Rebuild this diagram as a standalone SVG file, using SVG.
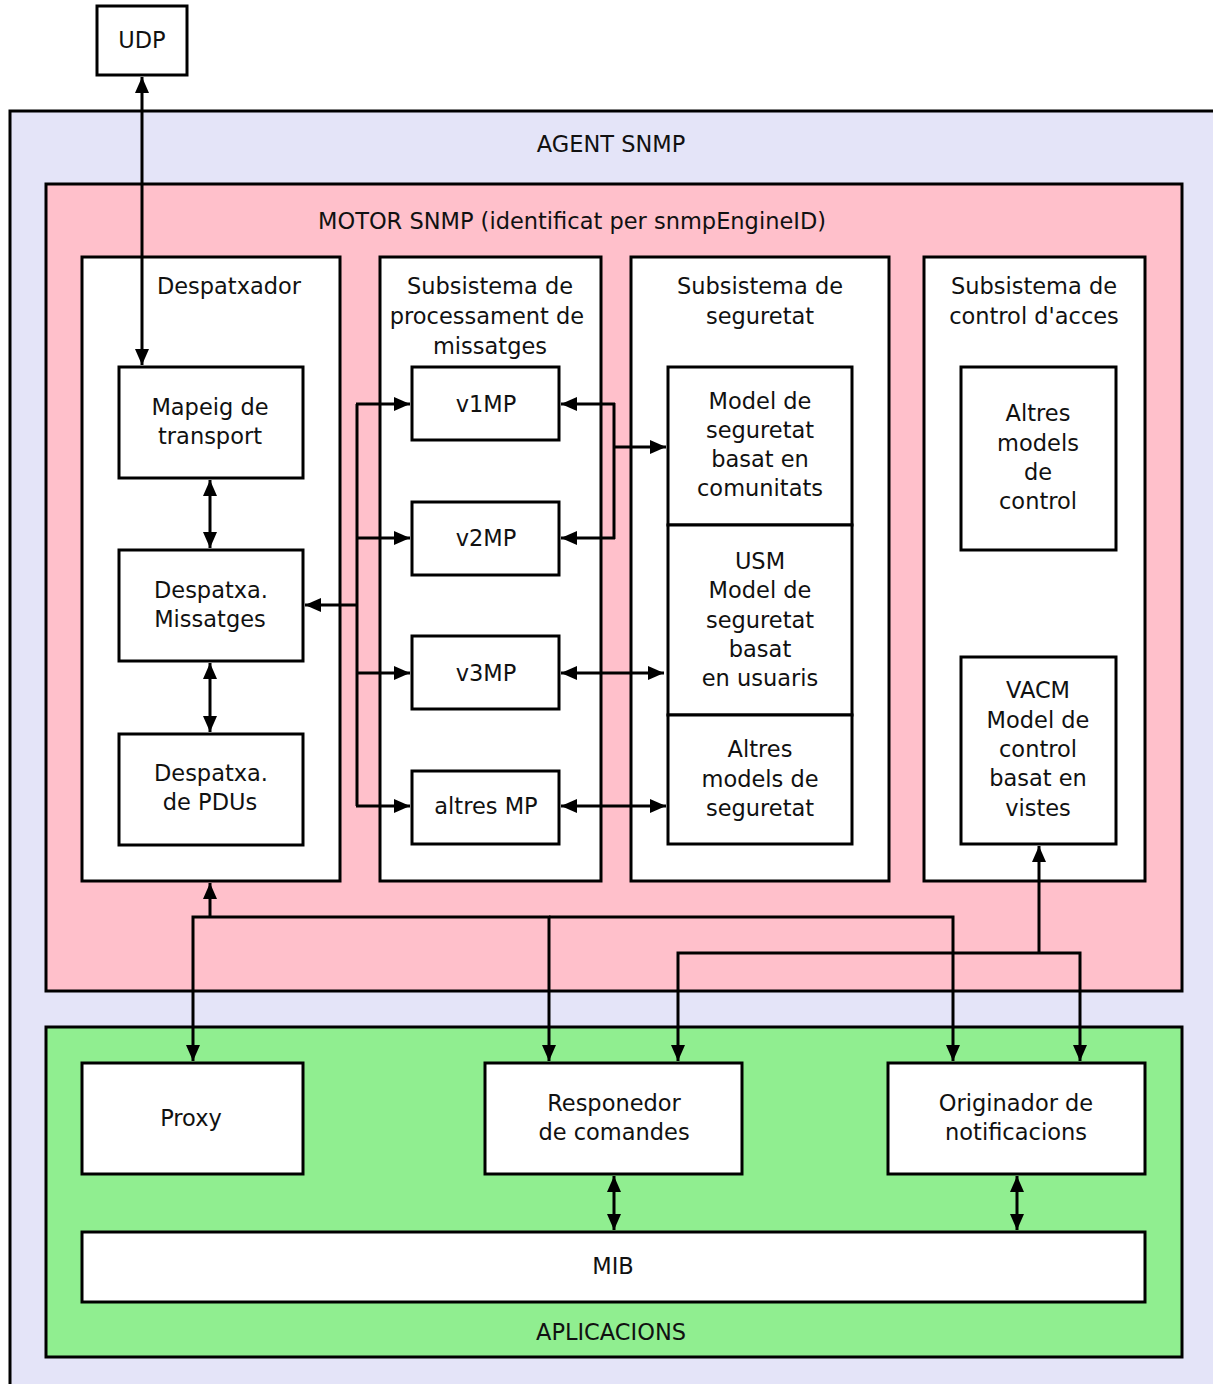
<svg xmlns="http://www.w3.org/2000/svg" width="1213" height="1384" viewBox="0 0 1213 1384">
  <defs>
    <marker id="ah" viewBox="0 0 16 14" refX="16" refY="7" markerWidth="16" markerHeight="14" markerUnits="userSpaceOnUse" orient="auto-start-reverse">
      <path d="M0,0 L16,7 L0,14 z" fill="#000"/>
    </marker>
    <style>
      .box { fill: #fff; stroke: #000; stroke-width: 3; }
      .agent { fill: #e4e4f8; stroke: #000; stroke-width: 3; }
      .motor { fill: #ffc0cb; stroke: #000; stroke-width: 3; }
      .apps { fill: #90ee90; stroke: #000; stroke-width: 3; }
      text { font-family: "DejaVu Sans", "Liberation Sans", sans-serif; font-size: 22.5px; fill: #111; text-anchor: middle; }
      .c { fill: none; stroke: #000; stroke-width: 3; }
      .a1 { marker-end: url(#ah); }
      .a2 { marker-start: url(#ah); marker-end: url(#ah); }
    </style>
  </defs>
  <rect width="1213" height="1384" fill="#fff"/>

  <!-- containers -->
  <g id="agent">
    <rect class="agent" x="10" y="111" width="1210" height="1290"/>
    <text x="611" y="152">AGENT SNMP</text>
  </g>
  <g id="motor">
    <rect class="motor" x="46" y="184" width="1136" height="807"/>
    <text x="572" y="229">MOTOR SNMP (identificat per snmpEngineID)</text>
  </g>
  <g id="aplicacions">
    <rect class="apps" x="46" y="1027" width="1136" height="330"/>
    <text x="611" y="1340">APLICACIONS</text>
  </g>

  <!-- subsystems -->
  <g id="despatxador">
    <rect class="box" x="82" y="257" width="258" height="624"/>
    <text x="229" y="294">Despatxador</text>
  </g>
  <g id="processament">
    <rect class="box" x="380" y="257" width="221" height="624"/>
    <text x="490" y="294">Subsistema de</text>
    <text x="487" y="324">processament de</text>
    <text x="490" y="354">missatges</text>
  </g>
  <g id="seguretat">
    <rect class="box" x="631" y="257" width="258" height="624"/>
    <text x="760" y="294">Subsistema de</text>
    <text x="760" y="324">seguretat</text>
  </g>
  <g id="control">
    <rect class="box" x="924" y="257" width="221" height="624"/>
    <text x="1034" y="294">Subsistema de</text>
    <text x="1034" y="324">control d'acces</text>
  </g>

  <!-- nodes -->
  <g id="udp">
    <rect class="box" x="97" y="6" width="90" height="69"/>
    <text x="142" y="48">UDP</text>
  </g>
  <g id="mapeig">
    <rect class="box" x="119" y="367" width="184" height="111"/>
    <text x="210" y="415">Mapeig de</text>
    <text x="210" y="444">transport</text>
  </g>
  <g id="missatges">
    <rect class="box" x="119" y="550" width="184" height="111"/>
    <text x="211" y="598">Despatxa.</text>
    <text x="210" y="627">Missatges</text>
  </g>
  <g id="pdus">
    <rect class="box" x="119" y="734" width="184" height="111"/>
    <text x="211" y="781">Despatxa.</text>
    <text x="210" y="810">de PDUs</text>
  </g>
  <g id="v1mp">
    <rect class="box" x="412" y="367" width="147" height="73"/>
    <text x="486" y="412">v1MP</text>
  </g>
  <g id="v2mp">
    <rect class="box" x="412" y="502" width="147" height="73"/>
    <text x="486" y="546">v2MP</text>
  </g>
  <g id="v3mp">
    <rect class="box" x="412" y="636" width="147" height="73"/>
    <text x="486" y="681">v3MP</text>
  </g>
  <g id="altresmp">
    <rect class="box" x="412" y="771" width="147" height="73"/>
    <text x="486" y="814">altres MP</text>
  </g>
  <g id="comunitats">
    <rect class="box" x="668" y="367" width="184" height="158"/>
    <text x="760" y="409">Model de</text>
    <text x="760" y="438">seguretat</text>
    <text x="760" y="467">basat en</text>
    <text x="760" y="496">comunitats</text>
  </g>
  <g id="usm">
    <rect class="box" x="668" y="525" width="184" height="190"/>
    <text x="760" y="569">USM</text>
    <text x="760" y="598">Model de</text>
    <text x="760" y="628">seguretat</text>
    <text x="760" y="657">basat</text>
    <text x="760" y="686">en usuaris</text>
  </g>
  <g id="altresseg">
    <rect class="box" x="668" y="715" width="184" height="129"/>
    <text x="760" y="757">Altres</text>
    <text x="760" y="787">models de</text>
    <text x="760" y="816">seguretat</text>
  </g>
  <g id="altrescontrol">
    <rect class="box" x="961" y="367" width="155" height="183"/>
    <text x="1038" y="421">Altres</text>
    <text x="1038" y="451">models</text>
    <text x="1038" y="480">de</text>
    <text x="1038" y="509">control</text>
  </g>
  <g id="vacm">
    <rect class="box" x="961" y="657" width="155" height="187"/>
    <text x="1038" y="698">VACM</text>
    <text x="1038" y="728">Model de</text>
    <text x="1038" y="757">control</text>
    <text x="1038" y="786">basat en</text>
    <text x="1038" y="816">vistes</text>
  </g>
  <g id="proxy">
    <rect class="box" x="82" y="1063" width="221" height="111"/>
    <text x="191" y="1126">Proxy</text>
  </g>
  <g id="responedor">
    <rect class="box" x="485" y="1063" width="257" height="111"/>
    <text x="614" y="1111">Responedor</text>
    <text x="614" y="1140">de comandes</text>
  </g>
  <g id="originador">
    <rect class="box" x="888" y="1063" width="257" height="111"/>
    <text x="1016" y="1111">Originador de</text>
    <text x="1016" y="1140">notificacions</text>
  </g>
  <g id="mib">
    <rect class="box" x="82" y="1232" width="1063" height="70"/>
    <text x="613" y="1274">MIB</text>
  </g>

  <!-- connectors -->
  <g id="connectors">
    <line class="c a2" x1="142" y1="77" x2="142" y2="365"/>
    <line class="c a2" x1="210" y1="480" x2="210" y2="548"/>
    <line class="c a2" x1="210" y1="663" x2="210" y2="732"/>

    <!-- dispatcher bus to message processing models -->
    <line class="c a1" x1="357" y1="605" x2="305" y2="605"/>
    <polyline class="c" points="357,404 357,806"/>
    <line class="c a1" x1="356" y1="404" x2="410" y2="404"/>
    <line class="c a1" x1="356" y1="538" x2="410" y2="538"/>
    <line class="c a1" x1="356" y1="673" x2="410" y2="673"/>
    <line class="c a1" x1="356" y1="806" x2="410" y2="806"/>

    <!-- message processing to security models -->
    <line class="c a1" x1="615" y1="404" x2="561" y2="404"/>
    <line class="c a1" x1="615" y1="538" x2="561" y2="538"/>
    <polyline class="c" points="614,403 614,539"/>
    <line class="c a1" x1="613" y1="447" x2="666" y2="447"/>
    <line class="c a2" x1="561" y1="673" x2="664" y2="673"/>
    <line class="c a2" x1="561" y1="806" x2="666" y2="806"/>

    <!-- engine to applications -->
    <line class="c a1" x1="210" y1="918" x2="210" y2="883"/>
    <polyline class="c a2" points="193,1061 193,917 549,917 549,1061"/>
    <polyline class="c a1" points="549,917 953,917 953,1061"/>
    <line class="c a1" x1="1039" y1="954" x2="1039" y2="846"/>
    <polyline class="c a2" points="678,1061 678,953 1080,953 1080,1061"/>

    <!-- applications to MIB -->
    <line class="c a2" x1="614" y1="1176" x2="614" y2="1230"/>
    <line class="c a2" x1="1017" y1="1176" x2="1017" y2="1230"/>
  </g>
</svg>
